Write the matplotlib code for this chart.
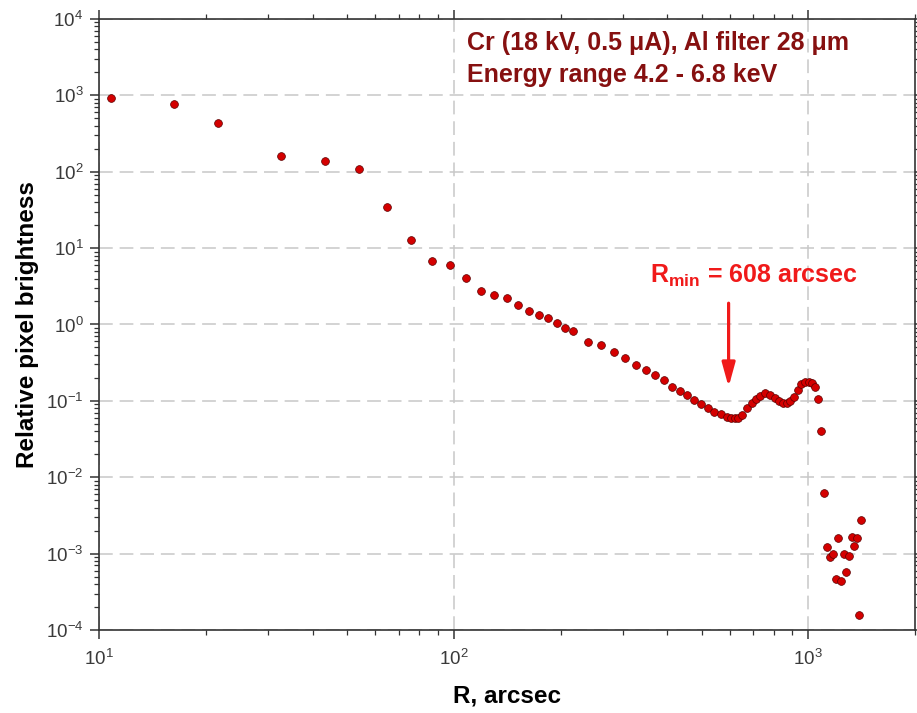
import matplotlib
matplotlib.use("Agg")
import matplotlib.pyplot as plt
from matplotlib.ticker import LogLocator, NullFormatter

plt.rcParams["font.family"] = ["Liberation Sans", "DejaVu Sans"]
plt.rcParams["mathtext.fontset"] = "custom"
plt.rcParams["mathtext.rm"] = "Liberation Sans"
plt.rcParams["mathtext.bf"] = "Liberation Sans:bold"

# radius (arcsec) and relative brightness
R = [10.8, 16.2, 21.6, 32.5, 43.4, 54.1, 64.9, 75.8, 86.7, 97.5,
     108.3, 119.3, 130.0, 141.2, 152, 162.5, 173.4, 183.9, 195.4, 205.9,
     216.8, 239, 260.6, 282.5, 304.6, 326.6, 347.6, 370.3, 390.8, 412.7,
     433.6, 456, 477, 499, 521, 543, 566, 590, 606, 621,
     634, 652, 673, 694, 712, 732, 757, 782, 804, 825,
     847, 871, 890, 910, 933, 956, 981, 1003, 1025, 1047,
     1066, 1089, 1108, 1130, 1149, 1172, 1195, 1216, 1240, 1259,
     1281, 1303, 1326, 1346, 1370, 1391, 1412]
BRIGHT = [925, 771, 435, 162, 138, 107, 35.0, 12.6, 6.87, 6.08,
          4.04, 2.78, 2.46, 2.23, 1.81, 1.51, 1.35, 1.22, 1.04, 0.894,
          0.824, 0.586, 0.541, 0.434, 0.369, 0.296, 0.257, 0.221, 0.190, 0.152,
          0.135, 0.119, 0.104, 0.0914, 0.0802, 0.0718, 0.067, 0.0612, 0.0593, 0.0593,
          0.060, 0.065, 0.0802, 0.0933, 0.105, 0.116, 0.126, 0.120, 0.108, 0.100,
          0.095, 0.0933, 0.100, 0.114, 0.139, 0.166, 0.179, 0.178, 0.171, 0.154,
          0.106, 0.0405, 0.00625, 0.00122, 0.00090, 0.00098, 0.000468, 0.00161, 0.000441, 0.00098,
          0.000573, 0.000935, 0.00164, 0.00124, 0.00161, 0.000157, 0.00277]

X_TICKS = [1e1, 1e2, 1e3]
Y_TICKS = [1e-4, 1e-3, 1e-2, 1e-1, 1e0, 1e1, 1e2, 1e3, 1e4]

INFO_LINES = ["Cr (18 kV, 0.5 \u03bcA), Al filter 28 \u03bcm", "Energy range 4.2 - 6.8 keV"]
RMIN_TEXT = r"R$_{\mathbf{min}}$ = 608 arcsec"
ARROW_X = 596
ARROW_Y = (1.9, 0.152)

DARK_RED = "#861010"
RED = "#f01a1a"
GRAY = "#3a3a3a"

fig = plt.figure(figsize=(9.17, 7.13), dpi=100)
ax = fig.add_axes([0.1083, 0.1164, 0.8895, 0.857])

ax.plot(R, BRIGHT, "o", ms=5.6, mfc="#d40000", mec="#5a0000", mew=0.5, zorder=3)

ax.set_xscale("log")
ax.set_yscale("log")
ax.set_xticks(X_TICKS)
ax.set_yticks(Y_TICKS)
ax.yaxis.set_minor_locator(LogLocator(base=10, subs=range(2, 10), numticks=20))
ax.xaxis.set_minor_formatter(NullFormatter())
ax.yaxis.set_minor_formatter(NullFormatter())
ax.set_xlim(10, 2000)
ax.set_ylim(1e-4, 1e4)

ax.grid(True, which="major", color="#c8c8c8", ls=(0, (9, 4.5)), lw=1.1)
for s in ax.spines.values():
    s.set_color("#333333")
    s.set_linewidth(1.2)
ax.tick_params(which="both", direction="out", top=True, right=True, color="#333333",
               labelcolor=GRAY, labelsize=13.5)
ax.tick_params(which="major", length=6.5, width=1.1)
ax.tick_params(which="minor", length=3.5, width=0.9)
ax.tick_params(axis="x", which="major", pad=7)
ax.tick_params(axis="y", which="major", pad=5)

ax.set_xlabel("R, arcsec", fontsize=17.5, fontweight="bold", labelpad=11)
ax.set_ylabel("Relative pixel brightness", fontsize=17.5, fontweight="bold", labelpad=5)

fig.text(467 / 917, 1 - 50 / 713, INFO_LINES[0], color=DARK_RED, fontsize=18,
         fontweight="bold", va="baseline")
fig.text(467 / 917, 1 - 82 / 713, INFO_LINES[1], color=DARK_RED, fontsize=18,
         fontweight="bold", va="baseline")
fig.text(650 / 917, 1 - 283 / 713, RMIN_TEXT, color=RED, fontsize=18,
         fontweight="bold", va="baseline")

ax.annotate("", xy=(ARROW_X, ARROW_Y[1]), xytext=(ARROW_X, ARROW_Y[0]),
            arrowprops=dict(arrowstyle="-|>,head_length=0.8,head_width=0.22",
                            mutation_scale=18, lw=2.3, color=RED,
                            shrinkA=0, shrinkB=0))

fig.savefig("out.png", dpi=100)
